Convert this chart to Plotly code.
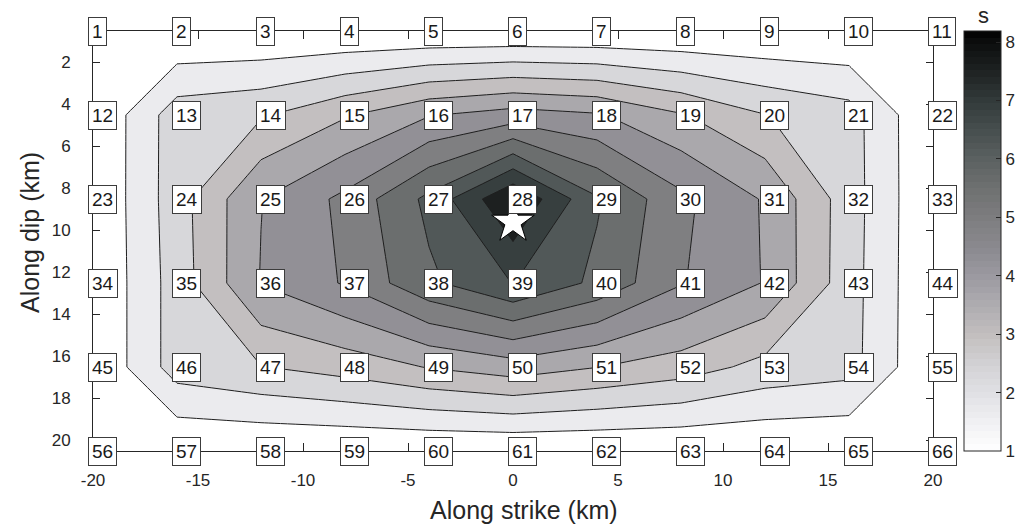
import plotly.graph_objects as go

# Fault-plane grid: along-strike and along-dip node positions (km)
strike_km = [-20, -16, -12, -8, -4, 0, 4, 8, 12, 16, 20]
dip_km = [0.5, 4.5, 8.5, 12.5, 16.5, 20.5]

# Values (s) at the grid nodes, one list per dip row (top to bottom)
row_1 = [1.00, 1.00, 1.00, 1.00, 1.00, 1.00, 1.00, 1.00, 1.00, 1.00, 1.00]
row_2 = [1.00, 2.67, 2.89, 3.55, 4.23, 4.55, 4.34, 3.67, 2.98, 2.59, 1.00]
row_3 = [1.00, 2.68, 4.25, 5.08, 6.40, 8.19, 6.30, 5.08, 4.20, 2.61, 1.00]
row_4 = [1.00, 2.62, 4.30, 4.98, 6.10, 6.90, 6.08, 4.97, 4.23, 2.58, 1.00]
row_5 = [1.00, 2.62, 2.94, 3.23, 3.65, 3.97, 3.63, 3.29, 2.75, 2.55, 1.00]
row_6 = [1.00, 1.00, 1.00, 1.00, 1.00, 1.00, 1.00, 1.00, 1.00, 1.00, 1.00]
node_values = [row_1, row_2, row_3, row_4, row_5, row_6]

# Hypocentre
hypo_strike = [0.0]
hypo_dip = [9.6]

# Colour range and contour levels (10 evenly spaced interior levels)
c_min, c_max = 1.0, 8.19
n_levels = 10
step = (c_max - c_min) / (n_levels + 1)
level_start = c_min + step
level_end = c_min + n_levels * step

x_ticks = [-20, -15, -10, -5, 0, 5, 10, 15, 20]
y_ticks = [2, 4, 6, 8, 10, 12, 14, 16, 18, 20]
cb_ticks = [1, 2, 3, 4, 5, 6, 7, 8]

FONT = "Liberation Sans, Arial, Helvetica, sans-serif"
AXIS_COL = "#262626"

# Figure geometry (pixels)
W, H = 1017, 525
M_L, M_R, M_T, M_B = 93, 84, 31, 74
PLOT_W = W - M_L - M_R
PLOT_H = H - M_T - M_B

# Grey colour map (value -> rgb) with a slight tint in the middle range
gray_anchors = [
    (1.0, (255, 255, 255)), (1.5, (240, 240, 243)), (2.0, (224, 224, 228)),
    (2.5, (210, 209, 212)), (3.0, (194, 190, 190)), (3.5, (174, 172, 176)),
    (4.0, (155, 153, 160)), (4.5, (138, 137, 142)), (5.0, (125, 125, 127)),
    (5.5, (110, 112, 112)), (6.0, (91, 97, 97)), (6.5, (70, 78, 78)),
    (7.0, (50, 58, 58)), (7.5, (30, 34, 34)), (8.0, (12, 13, 13)),
    (8.19, (0, 0, 0)),
]


def shade(v):
    if v <= gray_anchors[0][0]:
        r, g, b = gray_anchors[0][1]
        return f"rgb({r},{g},{b})"
    for (v0, c0), (v1, c1) in zip(gray_anchors[:-1], gray_anchors[1:]):
        if v <= v1:
            t = (v - v0) / (v1 - v0)
            r, g, b = (round(a + (b_ - a) * t) for a, b_ in zip(c0, c1))
            return f"rgb({r},{g},{b})"
    r, g, b = gray_anchors[-1][1]
    return f"rgb({r},{g},{b})"


# Filled bands: background below the first level, then one band per level
band_colors = [shade(c_min)] + [shade(level_start + k * step) for k in range(n_levels)]
contour_scale = [[k / n_levels, col] for k, col in enumerate(band_colors)]

# Colour bar: 64-step map
n_steps = 64
cbar_scale = []
for i in range(n_steps):
    col = shade(c_min + (i + 0.5) / n_steps * (c_max - c_min))
    cbar_scale.append([i / n_steps, col])
    cbar_scale.append([(i + 1) / n_steps, col])

fig = go.Figure()

fig.add_trace(go.Contour(
    x=strike_km, y=dip_km, z=node_values,
    contours=dict(start=level_start, end=level_end + 1e-6, size=step, coloring="fill"),
    colorscale=contour_scale,
    line=dict(color="#1e1e1e", width=1, smoothing=0),
    showscale=False, hoverinfo="skip",
))

# Colour bar carrier
fig.add_trace(go.Scatter(
    x=[0], y=[10], mode="markers", hoverinfo="skip", showlegend=False,
    marker=dict(
        size=1, opacity=0, color=[c_min], cmin=c_min, cmax=c_max,
        colorscale=cbar_scale, showscale=True,
        colorbar=dict(
            x=(964 - M_L) / PLOT_W, xanchor="left", xpad=0,
            y=1, yanchor="top", ypad=0, len=1, lenmode="fraction",
            thickness=37, thicknessmode="pixels",
            outlinewidth=1, outlinecolor=AXIS_COL,
            tickvals=cb_ticks, ticks="inside", ticklen=5, tickcolor=AXIS_COL,
            tickfont=dict(family=FONT, size=17, color=AXIS_COL),
        ),
    ),
))

fig.add_trace(go.Scatter(
    x=hypo_strike, y=hypo_dip, mode="markers", hoverinfo="skip", showlegend=False,
    marker=dict(symbol="star", size=32, color="white", line=dict(color="black", width=1)),
))

annotations = []
label = 1
for yv in dip_km:
    for xv in strike_km:
        annotations.append(dict(
            x=xv, y=yv, xref="x", yref="y", text=str(label), showarrow=False,
            xanchor="left", yanchor="middle", xshift=-5, height=21,
            bgcolor="white", bordercolor="#3c3c3c", borderwidth=1, borderpad=3,
            font=dict(family=FONT, size=19, color="#1a1a1a"),
        ))
        label += 1

annotations += [
    dict(text="Along strike (km)", x=(524 - M_L) / PLOT_W, y=(H - M_B - 510) / PLOT_H,
         xref="paper", yref="paper", showarrow=False, xanchor="center", yanchor="middle",
         font=dict(family=FONT, size=25, color=AXIS_COL)),
    dict(text="Along dip (km)", x=(30 - M_L) / PLOT_W, y=(H - M_B - 233) / PLOT_H,
         xref="paper", yref="paper", showarrow=False, xanchor="center", yanchor="middle",
         textangle=-90, font=dict(family=FONT, size=25, color=AXIS_COL)),
    dict(text="s", x=(983 - M_L) / PLOT_W, y=(H - M_B - 16) / PLOT_H,
         xref="paper", yref="paper", showarrow=False, xanchor="center", yanchor="middle",
         font=dict(family=FONT, size=22, color=AXIS_COL)),
]

fig.update_layout(
    width=W, height=H,
    margin=dict(l=M_L, r=M_R, t=M_T, b=M_B, pad=0, autoexpand=False),
    paper_bgcolor="white", plot_bgcolor="white",
    showlegend=False,
    annotations=annotations,
    font=dict(family=FONT, color=AXIS_COL),
    xaxis=dict(
        range=[-20, 20], tickvals=x_ticks, ticktext=[str(t) for t in x_ticks],
        ticks="inside", ticklen=8, tickcolor=AXIS_COL, mirror="ticks",
        showline=True, linecolor=AXIS_COL, linewidth=1,
        showgrid=False, zeroline=False, ticklabelstandoff=14,
        tickfont=dict(family=FONT, size=17, color=AXIS_COL),
    ),
    yaxis=dict(
        range=[20.5, 0.5], tickvals=y_ticks,
        ticks="inside", ticklen=7, tickcolor=AXIS_COL, mirror="ticks",
        showline=True, linecolor=AXIS_COL, linewidth=1,
        showgrid=False, zeroline=False, ticklabelstandoff=18,
        tickfont=dict(family=FONT, size=17, color=AXIS_COL),
    ),
)

fig.write_html("out.html")
